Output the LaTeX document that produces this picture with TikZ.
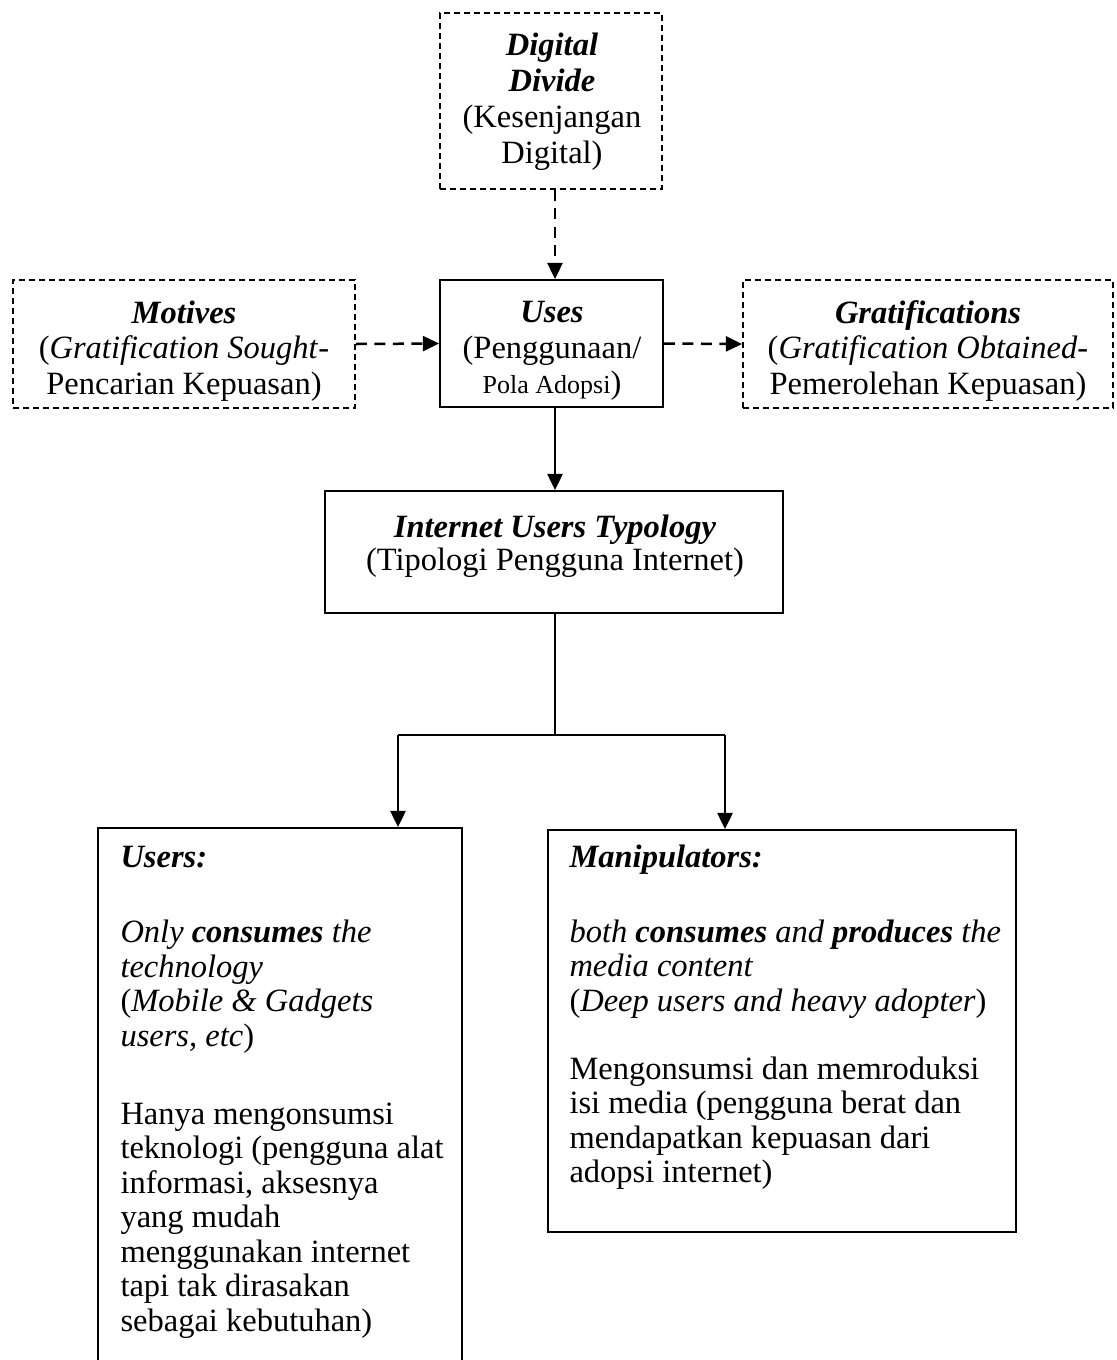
\documentclass[tikz,border=0pt]{standalone}
\usepackage{fontspec}
\setmainfont{Liberation Serif}
\usetikzlibrary{arrows.meta}
\begin{document}
\begin{tikzpicture}[x=0.4pt,y=-0.4pt,
  box/.style={draw, line width=0.7pt, inner sep=0pt},
  dbox/.style={box, dash pattern=on 2.4pt off 1.6pt},
  txt/.style={inner sep=0pt, font=\fontsize{13}{14.2}\selectfont},
  solidarrow/.style={line width=1.1pt, -{Triangle[length=6.5pt,width=6pt]}},
  dasharrow/.style={line width=1pt, dash pattern=on 4.4pt off 3pt, -{Triangle[length=6.5pt,width=6pt]}},
  thinline/.style={line width=0.55pt}]
\useasboundingbox (0,0) rectangle (1116,1360);
\clip (0,0) rectangle (1116,1360);
\fill[white] (0,0) rectangle (1116,1360);

% boxes
\node[dbox, minimum width=88.8pt, minimum height=70.4pt] (dd) at (551,101) {};
\node[dbox, minimum width=136.8pt, minimum height=51.2pt] (mot) at (184,344) {};
\node[box, minimum width=89.2pt, minimum height=50.8pt] (uses) at (551.5,343.5) {};
\node[dbox, minimum width=148pt, minimum height=51.2pt] (grat) at (928,344) {};
\node[box, minimum width=183.2pt, minimum height=48.8pt] (typ) at (554,552) {};
\node[box, minimum width=145.6pt, minimum height=217.6pt] (usr) at (280,1100) {};
\node[box, minimum width=187.2pt, minimum height=160.8pt] (man) at (782,1031) {};

% texts
\node[txt, align=center, anchor=north, font=\fontsize{13}{14.4}\selectfont] (ddt) at (552,32)
  {\textbf{\textit{Digital}}\\\textbf{\textit{Divide}}\\(Kesenjangan\\Digital)};
\node[txt, align=center, anchor=north] (mott) at (184,300)
  {\textbf{\textit{Motives}}\\(\textit{Gratification Sought}-\\Pencarian Kepuasan)};
\node[txt, align=center, anchor=north] (usest) at (552,301)
  {\textbf{\textit{Uses}}\\(Penggunaan/\\{\fontsize{10.4}{12}\selectfont Pola Adopsi})};
\node[txt, align=center, anchor=north] (gratt) at (928,300)
  {\textbf{\textit{Gratifications}}\\(\textit{Gratification Obtained}-\\Pemerolehan Kepuasan)};
\node[txt, align=center, anchor=north, font=\fontsize{13}{13.4}\selectfont] (typt) at (555,514)
  {\textbf{\textit{Internet Users Typology}}\\(Tipologi Pengguna Internet)};
\node[txt, align=left, anchor=north west, font=\fontsize{13}{13.8}\selectfont] (usrt) at (120,846)
  {\textbf{\textit{Users:}}\\[16.2pt]
   \textit{Only \textbf{consumes} the}\\
   \textit{technology}\\
   (\textit{Mobile \& Gadgets}\\
   \textit{users, etc})\\[17.4pt]
   Hanya mengonsumsi\\
   teknologi (pengguna alat\\
   informasi, aksesnya\\
   yang mudah\\
   menggunakan internet\\
   tapi tak dirasakan\\
   sebagai kebutuhan)};
\node[txt, align=left, anchor=north west, font=\fontsize{13}{13.8}\selectfont] (mant) at (569,844)
  {\textbf{\textit{Manipulators:}}\\[16.2pt]
   \textit{both \textbf{consumes} and \textbf{produces} the}\\
   \textit{media content}\\
   (\textit{Deep users and heavy adopter})\\[13.4pt]
   Mengonsumsi dan memroduksi\\
   isi media (pengguna berat dan\\
   mendapatkan kepuasan dari\\
   adopsi internet)};

% connectors
\coordinate (j) at (555,735);
\coordinate (jl) at (398,735);
\coordinate (jr) at (725,735);
\draw[dasharrow] (dd.south -| j) -- (uses.north -| j);
\draw[dasharrow] (mot.east) -- (uses.west);
\draw[dasharrow] (uses.east) -- (grat.west);
\draw[solidarrow] (uses.south -| j) -- (j |- typ.north);
\draw[thinline] (j |- typ.south) -- (j);
\draw[thinline] (jl) -- (jr);
\draw[solidarrow] (jl) -- (jl |- usr.north);
\draw[solidarrow] (jr) -- (jr |- man.north);
\end{tikzpicture}
\end{document}
